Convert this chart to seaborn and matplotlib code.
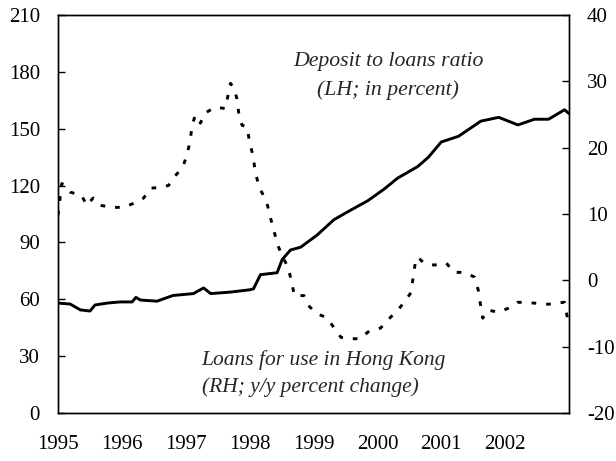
import matplotlib
matplotlib.use("Agg")
import matplotlib.pyplot as plt
import seaborn as sns
import pandas as pd

# Deposit to loans ratio (left axis, percent)
ratio_years = [1995.0, 1995.19, 1995.35, 1995.5, 1995.58, 1995.77, 1995.97, 1996.16, 1996.22,
               1996.29, 1996.55, 1996.8, 1997.12, 1997.28, 1997.39, 1997.7, 1998.0, 1998.06,
               1998.17, 1998.43, 1998.51, 1998.64, 1998.8, 1999.06, 1999.32, 1999.58, 1999.85,
               2000.1, 2000.32, 2000.63, 2000.8, 2001.0, 2001.27, 2001.62, 2001.9, 2002.2,
               2002.46, 2002.68, 2002.93, 2003.0]
ratio_values = [58, 57.5, 54.4, 53.8, 57, 58, 58.6, 58.6, 61,
                59.6, 59, 62, 63, 66, 63, 63.8, 65, 65.5,
                73, 74, 81, 86, 87.5, 94, 102, 107, 112,
                118, 124, 130, 135, 143, 146, 154, 156, 152,
                155, 155, 160, 158]

# Loans for use in Hong Kong (right axis, y/y percent change)
loan_years = [1995.0, 1995.06, 1995.19, 1995.37, 1995.45, 1995.55, 1995.66, 1995.87, 1996.03,
              1996.18, 1996.34, 1996.45, 1996.6, 1996.73, 1996.84, 1996.95, 1997.02, 1997.07,
              1997.1, 1997.15, 1997.23, 1997.3, 1997.46, 1997.62, 1997.7, 1997.75, 1997.8,
              1997.83, 1997.88, 1997.96, 1998.0, 1998.05, 1998.09, 1998.15, 1998.2, 1998.28,
              1998.33, 1998.38, 1998.44, 1998.52, 1998.6, 1998.66, 1998.7, 1998.85, 1998.92,
              1999.05, 1999.2, 1999.32, 1999.43, 1999.58, 1999.74, 1999.85, 2000.05, 2000.16,
              2000.32, 2000.42, 2000.53, 2000.56, 2000.6, 2000.63, 2000.73, 2000.89, 2001.08,
              2001.2, 2001.36, 2001.52, 2001.58, 2001.62, 2001.65, 2001.73, 2001.9, 2002.05,
              2002.2, 2002.41, 2002.68, 2002.93, 2003.0]
loan_values = [9.8, 14.6, 13.3, 12.8, 11.3, 12.4, 11.3, 11.0, 11.0,
               11.6, 12.4, 13.9, 14.0, 14.3, 15.8, 17.0, 18.9, 21.1,
               23.4, 24.9, 23.7, 25.2, 26.1, 25.9, 29.7, 29.1, 27.4,
               25.2, 23.4, 23.1, 20.8, 18.9, 16.3, 14.0, 13.1, 11.3,
               9.3, 7.5, 5.3, 3.5, 2.0, -0.3, -2.3, -2.3, -3.8,
               -5.0, -5.6, -7.1, -8.6, -8.8, -8.8, -7.8, -7.2, -6.0,
               -4.5, -3.3, -1.8, 0.5, 3.0, 3.5, 2.6, 2.3, 2.6,
               1.2, 1.2, 0.5, -1.5, -4.0, -5.7, -4.5, -4.8, -4.2,
               -3.3, -3.4, -3.6, -3.3, -7.0]

year_ticks = [1995, 1996, 1997, 1998, 1999, 2000, 2001, 2002, 2003]
year_labels = ["1995", "1996", "1997", "1998", "1999", "2000", "2001", "2002", ""]
left_ticks = [0, 30, 60, 90, 120, 150, 180, 210]
right_ticks = [-20, -10, 0, 10, 20, 30, 40]

sns.set_style("white")
plt.rcParams["font.family"] = ["Liberation Serif", "DejaVu Serif"]
plt.rcParams["axes.unicode_minus"] = False

fig = plt.figure(figsize=(6.16, 4.61), dpi=100)
ax = fig.add_axes([58 / 616, 48 / 461, (569 - 58) / 616, (413 - 15) / 461])
ax2 = ax.twinx()

ratio_df = pd.DataFrame({"year": ratio_years, "value": ratio_values})
loan_df = pd.DataFrame({"year": loan_years, "value": loan_values})

sns.lineplot(data=ratio_df, x="year", y="value", ax=ax, color="black", lw=2.1)
sns.lineplot(data=loan_df, x="year", y="value", ax=ax2, color="black", lw=2.1,
             linestyle=(0, (1.6, 3.4)))

ax.set_xlim(1995, 2003)
ax.set_ylim(0, 210)
ax2.set_ylim(-20, 40)
ax.set_xticks(year_ticks)
ax.set_xticklabels(year_labels)
ax.set_yticks(left_ticks)
ax2.set_yticks(right_ticks)
ax.set_xlabel("")
ax.set_ylabel("")
ax2.set_ylabel("")

for a in (ax, ax2):
    for s in a.spines.values():
        s.set_visible(True)
        s.set_color("black")
        s.set_linewidth(1.0)

fs = 15
ax.tick_params(axis="x", direction="in", length=5, width=1, pad=16, labelsize=fs, colors="black")
ax.tick_params(axis="y", direction="in", length=5, width=1, pad=13, labelsize=fs, colors="black",
               left=True)
ax2.tick_params(axis="y", direction="in", length=5, width=1, pad=13, labelsize=fs, colors="black",
                right=True)
ax.grid(False)
ax2.grid(False)

ax.text(2000.17, 185.5, "Deposit to loans ratio", ha="center", va="center",
        fontsize=15.7, style="italic")
ax.text(2000.17, 170.5, "(LH; in percent)", ha="center", va="center",
        fontsize=15.7, style="italic")
ax.text(1997.25, 28, "Loans for use in Hong Kong", ha="left", va="center",
        fontsize=15.5, style="italic")
ax.text(1997.25, 13.5, "(RH; y/y percent change)", ha="left", va="center",
        fontsize=15.5, style="italic")

fig.savefig("out.png", dpi=100, facecolor="white")
